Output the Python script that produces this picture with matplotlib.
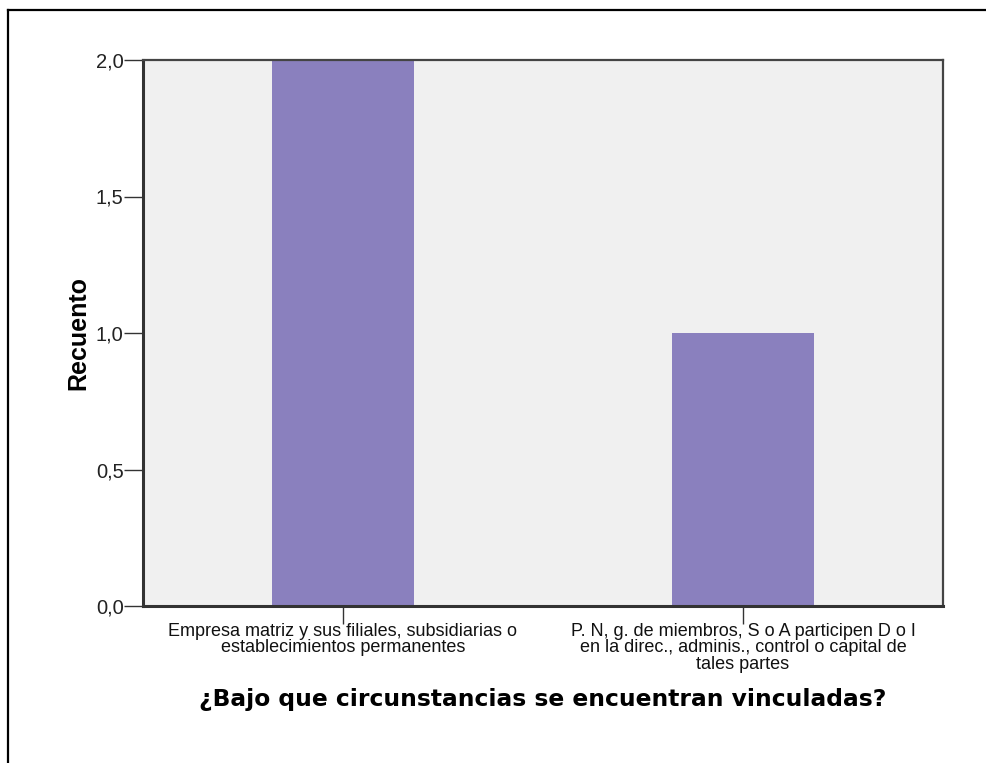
import matplotlib
matplotlib.use("Agg")
import matplotlib.pyplot as plt
from matplotlib.lines import Line2D
from matplotlib.ticker import FixedLocator, FuncFormatter

categories = [
    "Empresa matriz y sus filiales, subsidiarias o\nestablecimientos permanentes",
    "P. N, g. de miembros, S o A participen D o I\nen la direc., adminis., control o capital de\ntales partes",
]
counts = [2, 1]
y_ticks = [0.0, 0.5, 1.0, 1.5, 2.0]

W, H = 987, 763
fig = plt.figure(figsize=(W / 100, H / 100), dpi=100)
fig.patch.set_facecolor("white")

# outer frame (cropped on right and bottom)
fig.add_artist(Line2D([8 / W, 1.0], [1 - 10 / H, 1 - 10 / H], color="black", lw=1.6, transform=fig.transFigure))
fig.add_artist(Line2D([8 / W, 8 / W], [0.0, 1 - 10 / H], color="black", lw=1.6, transform=fig.transFigure))

left, right, top, bottom = 143, 943, 60, 606
ax = fig.add_axes([left / W, 1 - bottom / H, (right - left) / W, (bottom - top) / H])
ax.set_facecolor("#F0F0F0")

x = list(range(len(categories)))
ax.bar(x, counts, width=0.355, color="#8A80BE", edgecolor="none", zorder=2)

ax.set_xlim(-0.5, 1.5)
ax.set_ylim(0, 2.0)
ax.yaxis.set_major_locator(FixedLocator(y_ticks))
ax.yaxis.set_major_formatter(FuncFormatter(lambda v, p: f"{v:.1f}".replace(".", ",")))
ax.set_xticks(x)
ax.set_xticklabels(categories, fontsize=13, family="Liberation Sans", linespacing=0.98, color="#111111")
for lab in ax.get_yticklabels():
    lab.set_family("Liberation Sans")
    lab.set_fontsize(14.5)
    lab.set_color("#222222")

ax.tick_params(axis="y", length=14, width=1.0, color="#333333", pad=0)
ax.tick_params(axis="x", length=13, width=1.0, color="#333333", pad=-1)

for s in ["left", "bottom"]:
    ax.spines[s].set_linewidth(2.2)
    ax.spines[s].set_color("#333333")
for s in ["right", "top"]:
    ax.spines[s].set_linewidth(1.6)
    ax.spines[s].set_color("#444444")

ax.set_ylabel("Recuento", fontsize=18, fontweight="bold", family="Liberation Sans", labelpad=4)
ax.set_xlabel("¿Bajo que circunstancias se encuentran vinculadas?", fontsize=16.8,
              fontweight="bold", family="DejaVu Sans", labelpad=11)

fig.savefig("out.png", dpi=100)
